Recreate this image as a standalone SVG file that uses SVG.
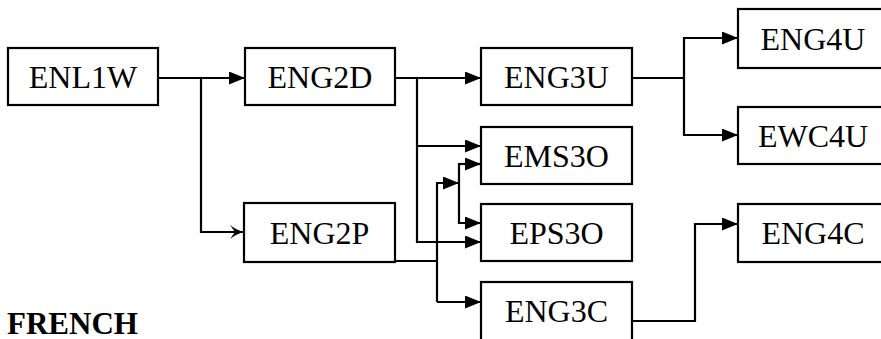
<svg xmlns="http://www.w3.org/2000/svg" width="881" height="339" viewBox="0 0 881 339">
<style>
.box{fill:#fff;stroke:#000;stroke-width:2.2}
.lbl{font-family:'Liberation Serif',serif;font-size:32px;fill:#000;text-anchor:middle}
.ttl{font-family:'Liberation Serif',serif;font-size:31px;font-weight:bold;fill:#000}
.c{fill:none;stroke:#000;stroke-width:2.2}
</style>
<defs>
<marker id="a" markerUnits="userSpaceOnUse" markerWidth="17" markerHeight="14" refX="16" refY="6.5" orient="auto">
<path d="M0,0 L16,6.5 L0,13 z" fill="#000"/>
</marker>
<marker id="s" markerUnits="userSpaceOnUse" markerWidth="16" markerHeight="16" refX="14" refY="7" orient="auto">
<path d="M0,0 Q6,5 14,7 Q6,9 0,14 L5,7 z" fill="#000"/>
</marker>
</defs>
<rect width="881" height="339" fill="#fff"/>
<g id="connectors">
<path class="c" d="M158,78 H245" marker-end="url(#a)"/>
<path class="c" d="M201,78 V232 H244" marker-end="url(#s)"/>
<path class="c" d="M395,78 H481" marker-end="url(#a)"/>
<path class="c" d="M417,78 V242 H481" marker-end="url(#a)"/>
<path class="c" d="M417,146 H481" marker-end="url(#a)"/>
<path class="c" d="M395,261 H437"/>
<path class="c" d="M437,302 V183 H459" marker-end="url(#a)"/>
<path class="c" d="M437,302 H481" marker-end="url(#a)"/>
<path class="c" d="M481,164 H459 V223 H481" marker-end="url(#a)"/>
<path class="c" d="M459,164 H481" marker-end="url(#a)"/>
<path class="c" d="M632,78 H684"/>
<path class="c" d="M738,38 H684 V135 H738" marker-end="url(#a)"/>
<path class="c" d="M684,38 H738" marker-end="url(#a)"/>
<path class="c" d="M632,321 H695 V224 H738" marker-end="url(#a)"/>
</g>
<g id="ENL1W"><rect class="box" x="8" y="48" width="150" height="57"/><text class="lbl" x="83" y="88">ENL1W</text></g>
<g id="ENG2D"><rect class="box" x="245" y="48" width="150" height="57"/><text class="lbl" x="320" y="88">ENG2D</text></g>
<g id="ENG2P"><rect class="box" x="244" y="203" width="151" height="59"/><text class="lbl" x="319.5" y="244">ENG2P</text></g>
<g id="ENG3U"><rect class="box" x="481" y="48" width="151" height="57"/><text class="lbl" x="556.5" y="88">ENG3U</text></g>
<g id="EMS3O"><rect class="box" x="481" y="127" width="151" height="57"/><text class="lbl" x="556.5" y="167">EMS3O</text></g>
<g id="EPS3O"><rect class="box" x="481" y="204" width="151" height="57"/><text class="lbl" x="556.5" y="244">EPS3O</text></g>
<g id="ENG3C"><rect class="box" x="481" y="282" width="151" height="62"/><text class="lbl" x="556.5" y="322">ENG3C</text></g>
<g id="ENG4U"><rect class="box" x="738" y="9" width="150" height="59"/><text class="lbl" x="813" y="50">ENG4U</text></g>
<g id="EWC4U"><rect class="box" x="738" y="107" width="150" height="57"/><text class="lbl" x="813" y="147">EWC4U</text></g>
<g id="ENG4C"><rect class="box" x="738" y="204" width="150" height="58"/><text class="lbl" x="813" y="244">ENG4C</text></g>
<text class="ttl" x="7" y="334">FRENCH</text>
</svg>
